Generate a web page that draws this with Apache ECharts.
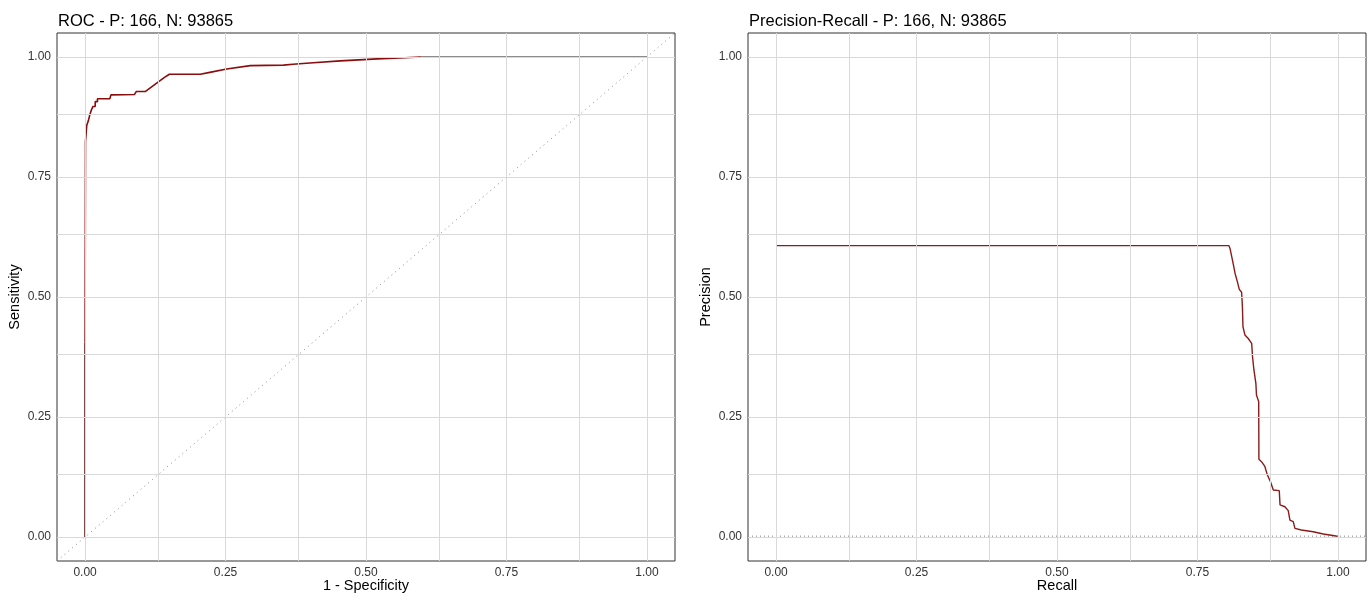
<!DOCTYPE html>
<html>
<head>
<meta charset="utf-8">
<script src="https://cdn.jsdelivr.net/npm/echarts@6/dist/echarts.min.js"></script>
<style>
html, body { margin: 0; padding: 0; background: #ffffff; }
#chart { width: 1370px; height: 595px; }
</style>
</head>
<body>
<div id="chart"></div>
<script>
// ROC curve: false positive rate (1 - specificity) vs true positive rate
const rocFpr = [0, 0, 0.0007, 0.0007, 0.003, 0.003, 0.006, 0.006, 0.008, 0.008, 0.011, 0.011,
  0.014, 0.014, 0.018, 0.018, 0.022, 0.022, 0.044, 0.046, 0.088, 0.091, 0.107, 0.128,
  0.142, 0.150, 0.205, 0.222, 0.252, 0.294, 0.353, 0.370, 0.406, 0.454, 0.471, 0.520,
  0.560, 0.598, 1.0];
const rocTpr = [0, 0.405, 0.405, 0.824, 0.824, 0.858, 0.858, 0.868, 0.868, 0.878, 0.878, 0.889,
  0.889, 0.897, 0.897, 0.907, 0.907, 0.913, 0.913, 0.921, 0.922, 0.928, 0.928, 0.946,
  0.958, 0.964, 0.964, 0.968, 0.975, 0.982, 0.983, 0.985, 0.988, 0.992, 0.993, 0.996,
  0.998, 1.0, 1.0];

// Precision-recall curve
const prRecall = [0, 0.806, 0.808, 0.811, 0.814, 0.817, 0.821, 0.8245, 0.8286, 0.830, 0.831,
  0.8345, 0.840, 0.8465, 0.848, 0.8505, 0.854, 0.855, 0.859, 0.8594, 0.864, 0.870, 0.8745,
  0.880, 0.885, 0.8956, 0.897, 0.9057, 0.9116, 0.9146, 0.9205, 0.9235, 0.935, 0.956, 0.974,
  0.9964, 1.0];
const prPrecision = [0.607, 0.607, 0.601, 0.584, 0.567, 0.549, 0.532, 0.516, 0.510, 0.480, 0.438,
  0.421, 0.414, 0.4035, 0.376, 0.348, 0.320, 0.296, 0.282, 0.162, 0.157, 0.147, 0.129,
  0.115, 0.098, 0.0965, 0.067, 0.063, 0.055, 0.035, 0.032, 0.018, 0.0146, 0.011, 0.0062,
  0.002, 0.0018];

const positives = 166;
const negatives = 93865;
const tickValues = [0, 0.25, 0.5, 0.75, 1];
const gridValues = [0, 0.125, 0.25, 0.375, 0.5, 0.625, 0.75, 0.875, 1];
const rocTitle = 'ROC - P: ' + positives + ', N: ' + negatives;
const prTitle = 'Precision-Recall - P: ' + positives + ', N: ' + negatives;
const axisLo = -0.05, axisHi = 1.05;

const FONT = '"Liberation Sans", Arial, sans-serif';

const pairs = (xs, ys) => xs.map((x, i) => [x, ys[i]]);
const roc = pairs(rocFpr, rocTpr);
const pr = pairs(prRecall, prPrecision);

// split the ROC path into colour bands
const lowEnd = rocFpr.lastIndexOf(0);
const topStart = rocTpr.indexOf(1);

function valueAxis(gridIndex, name, isY) {
  return {
    type: 'value', gridIndex: gridIndex, min: axisLo, max: axisHi,
    name: name, nameLocation: 'middle', nameMoveOverlap: false,
    nameGap: isY ? 35 : 17,
    nameTextStyle: { color: '#000', fontSize: 14.5, fontFamily: FONT },
    axisLine: { show: false },
    axisTick: { show: true, customValues: tickValues, length: 4, lineStyle: { color: '#333', width: 1 } },
    axisLabel: { show: true, customValues: tickValues, margin: 6, color: '#333', fontSize: 12,
      fontFamily: FONT, formatter: v => v.toFixed(2) },
    splitLine: { show: false }
  };
}

function gridLineSeries(idx) {
  const data = [];
  gridValues.forEach(v => { data.push({ xAxis: v }); data.push({ yAxis: v }); });
  return {
    type: 'line', xAxisIndex: idx, yAxisIndex: idx, data: [], z: 1, silent: true,
    markLine: {
      silent: true, symbol: ['none', 'none'], label: { show: false }, animation: false,
      lineStyle: { type: 'solid', color: '#d9d9d9', width: 1 },
      emphasis: { disabled: true },
      data: data
    }
  };
}

function path(data, idx, color, width, z, dashed) {
  return {
    type: 'line', xAxisIndex: idx, yAxisIndex: idx, data: data, symbol: 'none', showSymbol: false,
    silent: true, z: z, animation: false,
    lineStyle: { color: color, width: width, type: dashed || 'solid' }
  };
}

const gridBase = { top: 33, width: 618, height: 528, show: true, borderColor: '#333', borderWidth: 1,
  backgroundColor: '#fff', containLabel: false, outerBoundsMode: 'none' };

const chart = echarts.init(document.getElementById('chart'), null, { renderer: 'canvas' });
chart.setOption({
  backgroundColor: '#ffffff',
  animation: false,
  title: [
    { text: rocTitle, left: 53, top: 8, textStyle: { color: '#000', fontSize: 16.5, fontWeight: 'normal', fontFamily: FONT } },
    { text: prTitle, left: 744, top: 8, textStyle: { color: '#000', fontSize: 16.5, fontWeight: 'normal', fontFamily: FONT } }
  ],
  grid: [
    Object.assign({ left: 57 }, gridBase),
    Object.assign({ left: 748 }, gridBase)
  ],
  xAxis: [valueAxis(0, '1 - Specificity', false), valueAxis(1, 'Recall', false)],
  yAxis: [valueAxis(0, 'Sensitivity', true), valueAxis(1, 'Precision', true)],
  series: [
    gridLineSeries(0),
    gridLineSeries(1),
    // chance diagonal
    path([[axisLo, axisLo], [axisHi, axisHi]], 0, '#8a8a8a', 1, 2, [1, 4]),
    path(roc.slice(0, lowEnd + 1), 0, '#4a0000', 1.6, 3),
    path(roc.slice(lowEnd, topStart + 1), 0, '#8b0c0c', 1.6, 3),
    path(roc.slice(topStart), 0, '#1a1a1a', 1.2, 3),
    // precision of a random classifier
    path([[axisLo, positives / (positives + negatives)], [axisHi, positives / (positives + negatives)]], 1, '#808080', 1, 2, [1, 3]),
    path(pr, 1, '#8b1a1a', 1.4, 3)
  ]
});
</script>
</body>
</html>
